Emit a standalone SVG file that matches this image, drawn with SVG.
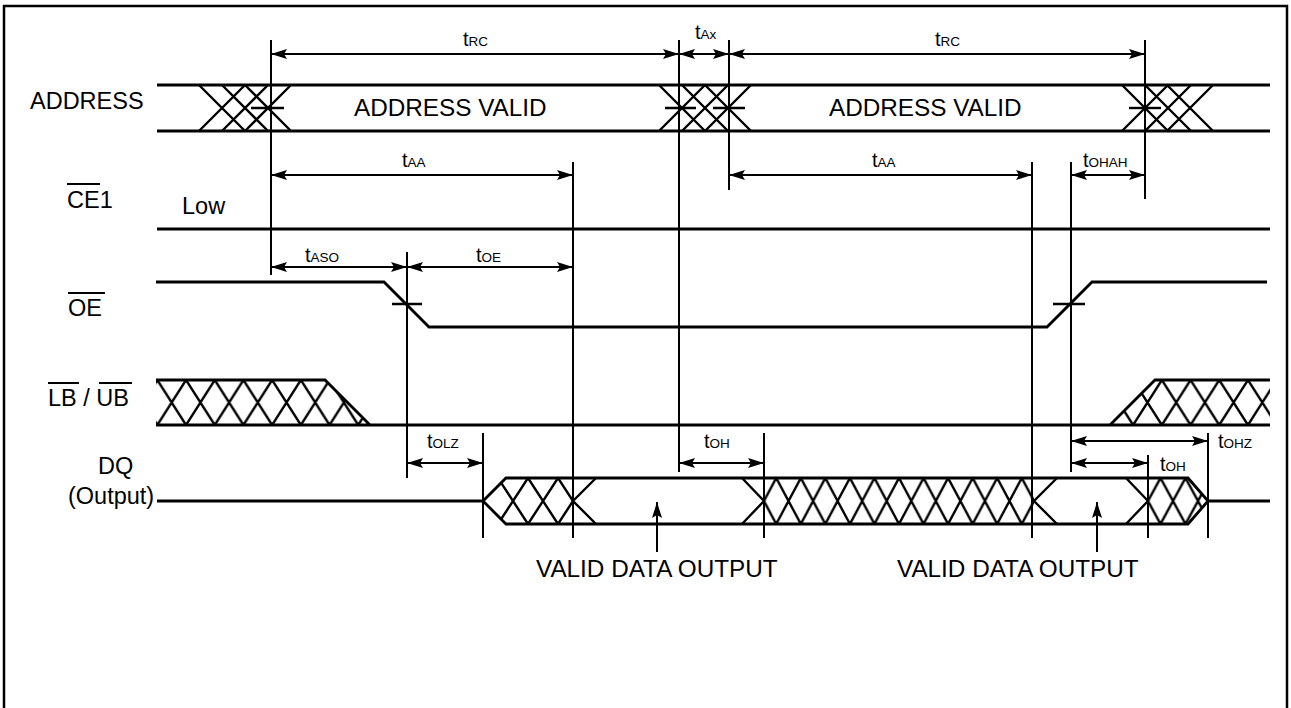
<svg xmlns="http://www.w3.org/2000/svg" width="1291" height="708" viewBox="0 0 1291 708">
<defs>
<style>
.sig{stroke:#000;stroke-width:2.8;fill:none;stroke-linejoin:miter}
.vl{stroke:#000;stroke-width:2;fill:none}
.hx{stroke:#000;stroke-width:2.4;fill:none}
.dim{stroke:#000;stroke-width:2;fill:none;marker-start:url(#ah);marker-end:url(#ah)}
.upa{stroke:#000;stroke-width:2;fill:none;marker-end:url(#ah)}
.lbl{font-family:"Liberation Sans",Arial,Helvetica,sans-serif;font-size:23.5px;fill:#000}
.big{font-size:24.3px}
.tl{font-family:"Liberation Sans",Arial,Helvetica,sans-serif;font-size:20px;fill:#000}
.sub{font-size:13.5px}
</style>
<marker id="ah" viewBox="0 0 16 10" refX="16" refY="5" markerWidth="16" markerHeight="10" markerUnits="userSpaceOnUse" orient="auto-start-reverse"><path d="M0,0 L16,5 L0,10 L3,5 z" fill="#000"/></marker>
<pattern id="hLB" patternUnits="userSpaceOnUse" x="157.35" y="380" width="28.7" height="45"><path d="M0,0 L28.7,45 M28.7,0 L0,45" stroke="#000" stroke-width="2.4" fill="none"/></pattern>
<pattern id="hDQ1" patternUnits="userSpaceOnUse" x="498" y="478" width="30" height="46"><path d="M0,0 L30,46 M30,0 L0,46" stroke="#000" stroke-width="2.4" fill="none"/></pattern>
<pattern id="hDQ2" patternUnits="userSpaceOnUse" x="751.7" y="478" width="24.55" height="46"><path d="M0,0 L24.55,46 M24.55,0 L0,46" stroke="#000" stroke-width="2.4" fill="none"/></pattern>
<pattern id="hDQ3" patternUnits="userSpaceOnUse" x="1135.5" y="478" width="25" height="46"><path d="M0,0 L25,46 M25,0 L0,46" stroke="#000" stroke-width="2.4" fill="none"/></pattern>
</defs>
<rect x="0" y="0" width="1291" height="708" fill="#fff"/>
<rect x="4" y="6" width="1283" height="720" fill="none" stroke="#000" stroke-width="2.5"/>

<g id="address">
<text class="lbl" x="30" y="109">ADDRESS</text>
<path class="sig" d="M157,85 H1270 M157,131 H1270"/>
<path class="hx" d="M199,85 L245,131 M222,85 L268,131 M245,85 L291,131 M245,85 L199,131 M268,85 L222,131 M291,85 L245,131"/>
<path class="hx" d="M251,108 H284"/>
<path class="hx" d="M659,85 L705,131 M682,85 L728,131 M705,85 L751,131 M705,85 L659,131 M728,85 L682,131 M751,85 L705,131"/>
<path class="hx" d="M665,108 H696 M713,108 H745"/>
<path class="hx" d="M1122,85 L1168,131 M1145,85 L1191,131 M1167,85 L1213,131 M1168,85 L1122,131 M1191,85 L1145,131 M1213,85 L1167,131"/>
<path class="hx" d="M1129,108 H1161"/>
<text class="lbl big" x="354" y="116">ADDRESS VALID</text>
<text class="lbl big" x="829" y="116">ADDRESS VALID</text>
</g>

<g id="ce1">
<text class="lbl" x="67" y="208">CE1</text>
<path class="vl" d="M67,184 H100"/>
<text class="lbl" x="182" y="214">Low</text>
<path class="sig" d="M157,229 H1270"/>
</g>

<g id="oe">
<text class="lbl" x="68" y="316">OE</text>
<path class="vl" d="M68,293 H105"/>
<path class="sig" d="M156,282 H384 L429,327 H1047 L1092,282 H1267"/>
<path class="hx" d="M392,304 H422 M1053,304 H1085"/>
</g>

<g id="lbub">
<text class="lbl" x="48" y="406">LB / UB</text>
<path class="vl" d="M48,383 H79 M99,383 H132"/>
<polygon points="156,380 325,380 370,425 156,425" fill="url(#hLB)"/>
<polygon points="1110,425 1155,380 1270,380 1270,425" fill="url(#hLB)"/>
<path class="sig" d="M156,380 H325 L370,425 M156,425 H1270 M1110,425 L1155,380 H1270"/>
</g>

<g id="dq">
<text class="lbl" x="98" y="474">DQ</text>
<text class="lbl" x="68" y="504">(Output)</text>
<polygon points="483,501 506,478 573,478 573,524 506,524" fill="url(#hDQ1)"/>
<polygon points="764,478 1034,478 1034,524 764,524" fill="url(#hDQ2)"/>
<polygon points="1148,478 1188,478 1208,501 1188,524 1148,524" fill="url(#hDQ3)"/>
<path class="hx" d="M596,478 L573,501 L596,524 M742,478 L764,501 L742,524 M1057,478 L1034,501 L1057,524 M1126,478 L1148,501 L1126,524"/>
<path class="sig" d="M157,501 H483 L506,478 H1188 L1208,501 H1270 M483,501 L506,524 H1188 L1208,501"/>
<path class="upa" d="M657,552 V502"/>
<path class="upa" d="M1097,552 V502"/>
<text class="lbl big" x="536" y="577">VALID DATA OUTPUT</text>
<text class="lbl big" x="897" y="577">VALID DATA OUTPUT</text>
</g>

<g id="connectors">
<path class="vl" d="M271,40 V275 M679,40 V472 M729,40 V190 M1145,40 V199 M573,162 V538 M1032,162 V538 M407,252 V478 M1071,162 V472 M483,433 V538 M764,433 V538 M1148,455 V538 M1208,433 V538"/>
<path class="dim" d="M271,54 H679"/>
<path class="dim" d="M679,54 H729"/>
<path class="dim" d="M729,54 H1145"/>
<path class="dim" d="M271,175 H573"/>
<path class="dim" d="M729,175 H1032"/>
<path class="dim" d="M1071,175 H1145"/>
<path class="dim" d="M271,267 H407"/>
<path class="dim" d="M407,267 H573"/>
<path class="dim" d="M407,463 H483"/>
<path class="dim" d="M679,463 H764"/>
<path class="dim" d="M1071,441 H1208"/>
<path class="dim" d="M1071,463 H1148"/>
<text class="tl" x="463" y="46">t<tspan class="sub">RC</tspan></text>
<text class="tl" x="695" y="39">t<tspan class="sub">Ax</tspan></text>
<text class="tl" x="935" y="46">t<tspan class="sub">RC</tspan></text>
<text class="tl" x="402" y="167">t<tspan class="sub">AA</tspan></text>
<text class="tl" x="872" y="167">t<tspan class="sub">AA</tspan></text>
<text class="tl" x="1083" y="167">t<tspan class="sub">OHAH</tspan></text>
<text class="tl" x="305" y="262">t<tspan class="sub">ASO</tspan></text>
<text class="tl" x="476" y="262">t<tspan class="sub">OE</tspan></text>
<text class="tl" x="427" y="448">t<tspan class="sub">OLZ</tspan></text>
<text class="tl" x="704" y="448">t<tspan class="sub">OH</tspan></text>
<text class="tl" x="1218" y="448">t<tspan class="sub">OHZ</tspan></text>
<text class="tl" x="1160" y="471">t<tspan class="sub">OH</tspan></text>
</g>
</svg>
